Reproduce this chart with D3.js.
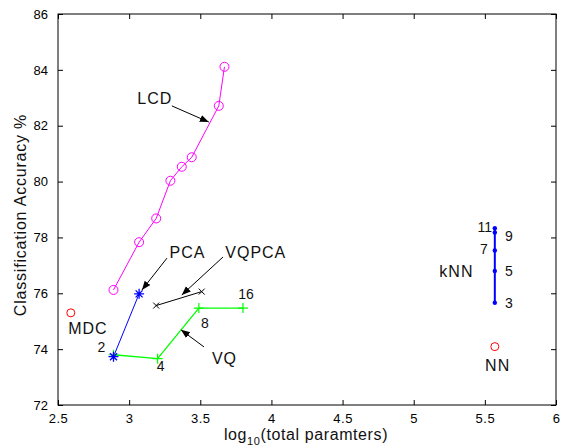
<!DOCTYPE html>
<html>
<head>
<meta charset="utf-8">
<script src="https://cdn.jsdelivr.net/npm/d3@7"></script>
<style>
  body { margin: 0; background: #fff; }
  svg { display: block; font-family: "Liberation Sans", Arial, sans-serif; }
</style>
</head>
<body>
<svg id="chart" width="563" height="448"></svg>
<script>
// data
var lcdX = [2.89, 3.07, 3.19, 3.29, 3.37, 3.44, 3.63, 3.67];
var lcdY = [76.12, 77.83, 78.68, 80.03, 80.53, 80.87, 82.71, 84.11];
var pcaX = [2.89, 3.07];
var pcaY = [73.73, 75.98];
var vqX = [2.89, 3.20, 3.49, 3.80];
var vqY = [73.80, 73.66, 75.47, 75.47];
var vqK = ["2", "4", "8", "16"];
var vqpcaX = [3.19, 3.51];
var vqpcaY = [75.56, 76.06];
var knnX = [5.57, 5.57, 5.57, 5.57, 5.57];
var knnY = [75.66, 76.80, 77.53, 78.18, 78.33];
var knnK = ["3", "5", "7", "9", "11"];
var mdcPt = [2.59, 75.30];
var nnPt = [5.57, 74.09];
var xTicks = [2.5, 3, 3.5, 4, 4.5, 5, 5.5, 6];
var yTicks = [72, 74, 76, 78, 80, 82, 84, 86];

var width = 563, height = 448;
var m = {left: 58, right: 7, top: 14, bottom: 43};

var x = d3.scaleLinear().domain([2.5, 6]).range([m.left, width - m.right]);
var y = d3.scaleLinear().domain([72, 86]).range([height - m.bottom, m.top]);

var svg = d3.select("#chart");

svg.append("defs").append("marker")
    .attr("id", "head")
    .attr("viewBox", "0 0 10 10")
    .attr("refX", 10).attr("refY", 5)
    .attr("markerWidth", 9).attr("markerHeight", 9)
    .attr("markerUnits", "userSpaceOnUse")
    .attr("orient", "auto")
  .append("path")
    .attr("d", "M0,1L10,5L0,9z")
    .attr("fill", "black");

// axes box, ticks inward on all four sides
var tickFmt = d => d;
svg.append("g")
    .attr("transform", `translate(0,${height - m.bottom})`)
    .call(d3.axisBottom(x).tickValues(xTicks).tickSizeInner(-5).tickSizeOuter(0).tickPadding(9).tickFormat(tickFmt))
    .call(g => g.selectAll("text").attr("font-size", 13).attr("letter-spacing", 0.5).attr("font-family", "Liberation Sans, Arial"));
svg.append("g")
    .attr("transform", `translate(0,${m.top})`)
    .call(d3.axisTop(x).tickValues(xTicks).tickSizeInner(-5).tickSizeOuter(0).tickFormat(""));
svg.append("g")
    .attr("transform", `translate(${m.left},0)`)
    .call(d3.axisLeft(y).tickValues(yTicks).tickSizeInner(-5).tickSizeOuter(0).tickPadding(10).tickFormat(tickFmt))
    .call(g => g.selectAll("text").attr("font-size", 13).attr("font-family", "Liberation Sans, Arial"));
svg.append("g")
    .attr("transform", `translate(${width - m.right},0)`)
    .call(d3.axisRight(y).tickValues(yTicks).tickSizeInner(-5).tickSizeOuter(0).tickFormat(""));
svg.selectAll(".domain").remove();
svg.append("rect")
    .attr("x", m.left).attr("y", m.top)
    .attr("width", width - m.left - m.right)
    .attr("height", height - m.top - m.bottom)
    .attr("fill", "none").attr("stroke", "black");

// axis titles
var xl = svg.append("text")
    .attr("x", 306).attr("y", 440)
    .attr("text-anchor", "middle")
    .attr("font-size", 16)
    .attr("letter-spacing", 0.6)
    .attr("fill", "#111");
xl.append("tspan").text("log");
xl.append("tspan").attr("font-size", 11).attr("dy", 5).text("10");
xl.append("tspan").attr("dy", -5).text("(total paramters)");

svg.append("text")
    .attr("transform", "translate(26,215) rotate(-90)")
    .attr("text-anchor", "middle")
    .attr("font-size", 16)
    .attr("letter-spacing", 0.8)
    .attr("fill", "#111")
    .text("Classification Accuracy %");

var line = d3.line().x(d => x(d[0])).y(d => y(d[1]));
var zip = (a, b) => a.map((v, i) => [v, b[i]]);

var lcd = zip(lcdX, lcdY), pca = zip(pcaX, pcaY), vq = zip(vqX, vqY),
    vqpca = zip(vqpcaX, vqpcaY), knn = zip(knnX, knnY);

// lines
svg.append("path").datum(lcd).attr("d", line).attr("fill", "none").attr("stroke", "#ff00ff");
svg.append("path").datum(vqpca).attr("d", line).attr("fill", "none").attr("stroke", "black");
svg.append("path").datum(vq).attr("d", line).attr("fill", "none").attr("stroke", "#00ff00").attr("stroke-width", 1.3);
svg.append("path").datum(pca).attr("d", line).attr("fill", "none").attr("stroke", "#0000ff");
svg.append("path").datum(knn).attr("d", line).attr("fill", "none").attr("stroke", "#0000ff").attr("stroke-width", 2);

// markers
svg.append("g").selectAll("circle").data(lcd).join("circle")
    .attr("cx", d => x(d[0])).attr("cy", d => y(d[1])).attr("r", 4.5)
    .attr("fill", "none").attr("stroke", "#ff00ff");

svg.append("g").selectAll("path").data(vq).join("path")
    .attr("d", d => `M${x(d[0]) - 5},${y(d[1])}h10M${x(d[0])},${y(d[1]) - 5}v10`)
    .attr("stroke", "#00ff00").attr("stroke-width", 1.2);

svg.append("g").selectAll("path").data(vqpca).join("path")
    .attr("d", d => `M${x(d[0]) - 3},${y(d[1]) - 3}l6,6M${x(d[0]) - 3},${y(d[1]) + 3}l6,-6`)
    .attr("stroke", "black");

svg.append("g").selectAll("path").data(pca).join("path")
    .attr("d", d => {
        var cx = x(d[0]), cy = y(d[1]);
        return `M${cx - 5},${cy}h10M${cx},${cy - 5}v10M${cx - 3.5},${cy - 3.5}l7,7M${cx - 3.5},${cy + 3.5}l7,-7`;
    })
    .attr("stroke", "#0000ff").attr("stroke-width", 1.3);

svg.append("g").selectAll("circle").data(knn).join("circle")
    .attr("cx", d => x(d[0])).attr("cy", d => y(d[1])).attr("r", 2.2)
    .attr("fill", "#0000ff");

svg.append("g").selectAll("circle").data([mdcPt, nnPt]).join("circle")
    .attr("cx", d => x(d[0])).attr("cy", d => y(d[1])).attr("r", 4)
    .attr("fill", "none").attr("stroke", "#ff0000");

// small number labels
var numOff = [[-12, -3], [3, 12], [6, 20], [3, -9]];
svg.append("g").selectAll("text").data(vq).join("text")
    .attr("x", (d, i) => x(d[0]) + numOff[i][0])
    .attr("y", (d, i) => y(d[1]) + numOff[i][1])
    .attr("text-anchor", "middle")
    .attr("font-size", 14).attr("fill", "#111")
    .text((d, i) => vqK[i]);

var knnOff = [[14, 5], [14, 5], [-11, 3], [14, 9], [-10, 4]];
svg.append("g").selectAll("text").data(knn).join("text")
    .attr("x", (d, i) => x(d[0]) + knnOff[i][0])
    .attr("y", (d, i) => y(d[1]) + knnOff[i][1])
    .attr("text-anchor", "middle")
    .attr("font-size", 14).attr("fill", "#111")
    .text((d, i) => knnK[i]);

// method labels with arrows (data coordinates)
var notes = [
    {t: "LCD",   at: [3.18, 83.0],  from: [3.30, 82.71], to: [3.56, 82.13]},
    {t: "PCA",   at: [3.41, 77.48], from: [3.266, 77.26], to: [3.09, 76.12]},
    {t: "VQPCA", at: [3.89, 77.48], from: [3.66, 77.30], to: [3.37, 75.94]},
    {t: "VQ",    at: [3.67, 73.68], from: [3.526, 74.08], to: [3.364, 74.69]},
    {t: "MDC",   at: [2.71, 74.76]},
    {t: "kNN",   at: [5.30, 76.80]},
    {t: "NN",    at: [5.59, 73.43]}
];

svg.append("g").selectAll("line").data(notes.filter(d => d.from)).join("line")
    .attr("x1", d => x(d.from[0])).attr("y1", d => y(d.from[1]))
    .attr("x2", d => x(d.to[0])).attr("y2", d => y(d.to[1]))
    .attr("stroke", "black")
    .attr("marker-end", "url(#head)");

svg.append("g").selectAll("text").data(notes).join("text")
    .attr("x", d => x(d.at[0])).attr("y", d => y(d.at[1]))
    .attr("dy", "0.36em")
    .attr("text-anchor", "middle")
    .attr("font-size", 16).attr("letter-spacing", 1)
    .attr("fill", "#111")
    .text(d => d.t);
</script>
</body>
</html>
